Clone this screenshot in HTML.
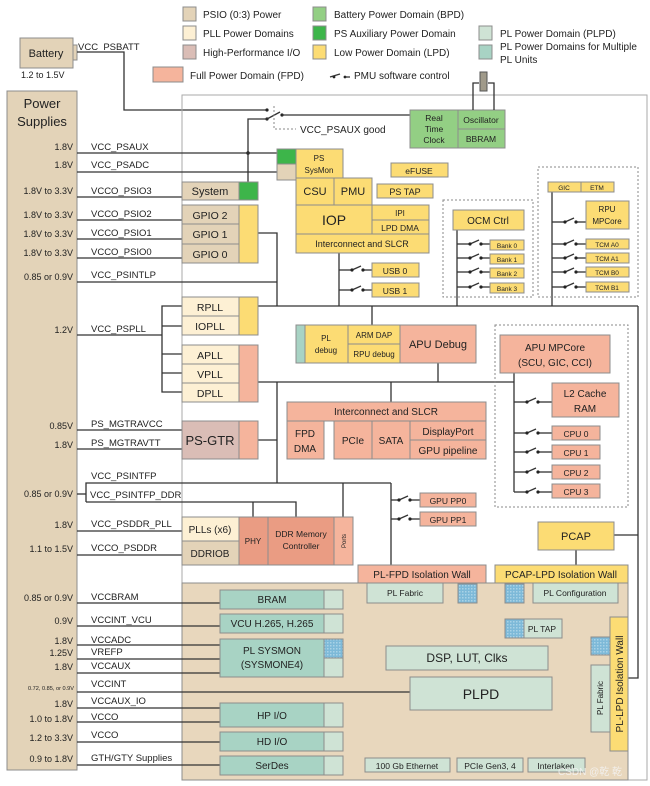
<!DOCTYPE html>
<html><head><meta charset="utf-8"><style>
body{margin:0;background:#fff}
svg{display:block}
text{font-family:"Liberation Sans",sans-serif;fill:#222}
.b{stroke:#8c8c8c;stroke-width:1}
.l{stroke:#333;stroke-width:1.3;fill:none}
.d{stroke:#888;stroke-width:1;stroke-dasharray:2,2;fill:none}
.v{font-size:9px;text-anchor:end}
.n{font-size:9.5px}
.c{text-anchor:middle}
</style></head><body>
<svg width="650" height="786" viewBox="0 0 650 786" xmlns="http://www.w3.org/2000/svg">
<defs>
<pattern id="dt" width="3" height="3" patternUnits="userSpaceOnUse"><rect width="3" height="3" fill="#7db9d8"/><rect width="1.5" height="1.5" fill="#a9d2e6"/></pattern>
</defs>
<!-- legend -->
<rect x="183" y="7" width="13" height="14" fill="#e3d3b8" class="b"/><text x="203" y="18" font-size="10">PSIO (0:3) Power</text>
<rect x="183" y="26" width="13" height="14" fill="#fdf0d4" class="b"/><text x="203" y="37" font-size="10">PLL Power Domains</text>
<rect x="183" y="45" width="13" height="14" fill="#dabdb6" class="b"/><text x="203" y="56" font-size="10">High-Performance I/O</text>
<rect x="313" y="7" width="13" height="14" fill="#93cf84" class="b"/><text x="334" y="18" font-size="10">Battery Power Domain (BPD)</text>
<rect x="313" y="26" width="13" height="14" fill="#3db54a" class="b"/><text x="334" y="37" font-size="10">PS Auxiliary Power Domain</text>
<rect x="313" y="45" width="13" height="14" fill="#fcdc74" class="b"/><text x="334" y="56" font-size="10">Low Power Domain (LPD)</text>
<rect x="479" y="26" width="13" height="14" fill="#cfe3d5" class="b"/><text x="500" y="37" font-size="10">PL Power Domain (PLPD)</text>
<rect x="479" y="45" width="13" height="14" fill="#a8d3c4" class="b"/><text x="500" y="50" font-size="10">PL Power Domains for Multiple</text><text x="500" y="63" font-size="10">PL Units</text>
<rect x="153" y="67" width="30" height="15" fill="#f5b49c" class="b"/><text x="190" y="79" font-size="10">Full Power Domain (FPD)</text>
<circle cx="334" cy="77" r="1.4" fill="#222"/><line x1="330" y1="77" x2="340" y2="74" class="l"/><circle cx="345" cy="77" r="1.4" fill="#222"/><line x1="345" y1="77" x2="350" y2="77" class="l"/>
<text x="354" y="79" font-size="10">PMU software control</text>

<!-- battery -->
<rect x="20" y="38" width="53" height="30" fill="#e3d3b8" class="b"/><text x="46" y="57" class="c" font-size="11">Battery</text>
<rect x="73" y="45" width="4" height="15" fill="#e3d3b8" class="b"/>
<text x="78" y="50" font-size="9.5">VCC_PSBATT</text>
<text x="21" y="78" font-size="9">1.2 to 1.5V</text>
<polyline points="77,52 124,52 124,110 267,110" class="l"/>

<!-- power supplies box -->
<rect x="7" y="91" width="70" height="679" fill="#e3d3b8" class="b"/>
<text x="42" y="108" class="c" font-size="13">Power</text>
<text x="42" y="126" class="c" font-size="13">Supplies</text>

<!-- main box -->
<rect x="182" y="95" width="465" height="685" fill="none" stroke="#aaa"/>
<!-- PL area -->
<rect x="182" y="583" width="446" height="197" fill="#e8d7bd" class="b"/>

<!-- switch & RTC -->
<circle cx="267" cy="110" r="1.6" fill="#222"/>
<circle cx="267" cy="119" r="1.6" fill="#222"/>
<line x1="267" y1="119" x2="280" y2="112" class="l"/>
<circle cx="282" cy="115" r="1.6" fill="#222"/>
<line x1="282" y1="115" x2="410" y2="115" class="l"/>
<polyline points="274,106 274,129 296,129" class="d"/>
<text x="300" y="133" font-size="10">VCC_PSAUX good</text>
<polyline points="267,119 248,119 248,182" class="l"/>
<circle cx="248" cy="153" r="1.8" fill="#222"/>
<rect x="410" y="110" width="48" height="38" fill="#93cf84" class="b"/>
<text x="434" y="121" class="c" font-size="8.5">Real</text><text x="434" y="132" class="c" font-size="8.5">Time</text><text x="434" y="143" class="c" font-size="8.5">Clock</text>
<rect x="458" y="110" width="47" height="19" fill="#93cf84" class="b"/><text x="481" y="123" class="c" font-size="8.5">Oscillator</text>
<rect x="458" y="129" width="47" height="19" fill="#93cf84" class="b"/><text x="481" y="142" class="c" font-size="8.5">BBRAM</text>
<polyline points="473,110 473,83 479,83" class="l" stroke-width="1"/><polyline points="494,110 494,83 488,83" class="l" stroke-width="1"/>
<rect x="480" y="72" width="7" height="19" fill="#a09a8a" stroke="#555"/>

<!-- supply lines -->
<g class="l">
<line x1="77" y1="153" x2="277" y2="153"/>
<line x1="77" y1="172" x2="277" y2="172"/>
<line x1="77" y1="197" x2="182" y2="197"/>
<line x1="77" y1="220" x2="182" y2="220"/>
<line x1="77" y1="239" x2="182" y2="239"/>
<line x1="77" y1="258" x2="182" y2="258"/>
<polyline points="77,282 277,282"/>
<polyline points="258,233 277,233 277,306"/>
<line x1="77" y1="335" x2="162" y2="335"/>
<polyline points="182,306 162,306 162,392 182,392"/>
<line x1="162" y1="326" x2="182" y2="326"/>
<line x1="162" y1="354" x2="182" y2="354"/>
<line x1="162" y1="373" x2="182" y2="373"/>
<line x1="77" y1="430" x2="182" y2="430"/>
<line x1="77" y1="449" x2="182" y2="449"/>
<polyline points="77,494 86,494"/>
<polyline points="86,502 86,483 391,483"/>
<polyline points="86,502 296,502 296,517"/>
<line x1="253" y1="502" x2="253" y2="517"/>
<line x1="343" y1="483" x2="343" y2="517"/>
<line x1="77" y1="531" x2="182" y2="531"/>
<line x1="77" y1="555" x2="182" y2="555"/>
<line x1="77" y1="603" x2="220" y2="603"/>
<line x1="77" y1="626" x2="220" y2="626"/>
<line x1="77" y1="645" x2="220" y2="645"/>
<line x1="77" y1="659" x2="220" y2="659"/>
<line x1="77" y1="673" x2="220" y2="673"/>
<line x1="77" y1="692" x2="410" y2="692"/>
<line x1="77" y1="708" x2="220" y2="708"/>
<line x1="77" y1="722" x2="220" y2="722"/>
<line x1="77" y1="742" x2="220" y2="742"/>
<line x1="77" y1="765" x2="220" y2="765"/>
<!-- internal buses -->
<line x1="258" y1="306" x2="638" y2="306"/>
<polyline points="638,306 638,678 628,678"/>
<polyline points="614,535 638,535"/>
<line x1="339" y1="253" x2="339" y2="306"/>
<line x1="372" y1="306" x2="372" y2="325"/>
<line x1="457" y1="230" x2="457" y2="306"/>
<line x1="552" y1="192" x2="552" y2="306"/>
<line x1="258" y1="382" x2="514" y2="382"/>
<line x1="258" y1="440" x2="277" y2="440"/>
<line x1="277" y1="382" x2="277" y2="483"/>
<line x1="391" y1="382" x2="391" y2="402"/>
<line x1="438" y1="363" x2="438" y2="382"/>
<line x1="514" y1="373" x2="514" y2="492"/>
<line x1="391" y1="483" x2="391" y2="565"/>
<line x1="576" y1="550" x2="576" y2="565"/>
</g>

<!-- switches -->
<g>
<g class="l" stroke-width="1.1">
<line x1="339" y1="270" x2="352" y2="270"/><line x1="352" y1="270" x2="361" y2="266"/><line x1="363" y1="270" x2="372" y2="270"/>
<line x1="339" y1="290" x2="352" y2="290"/><line x1="352" y1="290" x2="361" y2="286"/><line x1="363" y1="290" x2="372" y2="290"/>
<line x1="457" y1="244" x2="470" y2="244"/><line x1="470" y1="244" x2="479" y2="240"/><line x1="481" y1="244" x2="490" y2="244"/>
<line x1="457" y1="258" x2="470" y2="258"/><line x1="470" y1="258" x2="479" y2="254"/><line x1="481" y1="258" x2="490" y2="258"/>
<line x1="457" y1="272" x2="470" y2="272"/><line x1="470" y1="272" x2="479" y2="268"/><line x1="481" y1="272" x2="490" y2="272"/>
<line x1="457" y1="287" x2="470" y2="287"/><line x1="470" y1="287" x2="479" y2="283"/><line x1="481" y1="287" x2="490" y2="287"/>
<line x1="552" y1="222" x2="565" y2="222"/><line x1="565" y1="222" x2="574" y2="218"/><line x1="576" y1="222" x2="586" y2="222"/>
<line x1="552" y1="244" x2="565" y2="244"/><line x1="565" y1="244" x2="574" y2="240"/><line x1="576" y1="244" x2="586" y2="244"/>
<line x1="552" y1="258" x2="565" y2="258"/><line x1="565" y1="258" x2="574" y2="254"/><line x1="576" y1="258" x2="586" y2="258"/>
<line x1="552" y1="272" x2="565" y2="272"/><line x1="565" y1="272" x2="574" y2="268"/><line x1="576" y1="272" x2="586" y2="272"/>
<line x1="552" y1="287" x2="565" y2="287"/><line x1="565" y1="287" x2="574" y2="283"/><line x1="576" y1="287" x2="586" y2="287"/>
<line x1="514" y1="402" x2="527" y2="402"/><line x1="527" y1="402" x2="536" y2="398"/><line x1="538" y1="402" x2="552" y2="402"/>
<line x1="514" y1="433" x2="527" y2="433"/><line x1="527" y1="433" x2="536" y2="429"/><line x1="538" y1="433" x2="552" y2="433"/>
<line x1="514" y1="452" x2="527" y2="452"/><line x1="527" y1="452" x2="536" y2="448"/><line x1="538" y1="452" x2="552" y2="452"/>
<line x1="514" y1="472" x2="527" y2="472"/><line x1="527" y1="472" x2="536" y2="468"/><line x1="538" y1="472" x2="552" y2="472"/>
<line x1="514" y1="492" x2="527" y2="492"/><line x1="527" y1="492" x2="536" y2="488"/><line x1="538" y1="492" x2="552" y2="492"/>
<line x1="391" y1="500" x2="399" y2="500"/><line x1="399" y1="500" x2="408" y2="496"/><line x1="410" y1="500" x2="420" y2="500"/>
<line x1="391" y1="519" x2="399" y2="519"/><line x1="399" y1="519" x2="408" y2="515"/><line x1="410" y1="519" x2="420" y2="519"/>
</g>
<g fill="#222">
<circle cx="352" cy="270" r="1.6"/><circle cx="363" cy="270" r="1.6"/><circle cx="352" cy="290" r="1.6"/><circle cx="363" cy="290" r="1.6"/>
<circle cx="470" cy="244" r="1.6"/><circle cx="481" cy="244" r="1.6"/><circle cx="470" cy="258" r="1.6"/><circle cx="481" cy="258" r="1.6"/>
<circle cx="470" cy="272" r="1.6"/><circle cx="481" cy="272" r="1.6"/><circle cx="470" cy="287" r="1.6"/><circle cx="481" cy="287" r="1.6"/>
<circle cx="565" cy="222" r="1.6"/><circle cx="576" cy="222" r="1.6"/><circle cx="565" cy="244" r="1.6"/><circle cx="576" cy="244" r="1.6"/>
<circle cx="565" cy="258" r="1.6"/><circle cx="576" cy="258" r="1.6"/><circle cx="565" cy="272" r="1.6"/><circle cx="576" cy="272" r="1.6"/>
<circle cx="565" cy="287" r="1.6"/><circle cx="576" cy="287" r="1.6"/>
<circle cx="527" cy="402" r="1.6"/><circle cx="538" cy="402" r="1.6"/><circle cx="527" cy="433" r="1.6"/><circle cx="538" cy="433" r="1.6"/>
<circle cx="527" cy="452" r="1.6"/><circle cx="538" cy="452" r="1.6"/><circle cx="527" cy="472" r="1.6"/><circle cx="538" cy="472" r="1.6"/>
<circle cx="527" cy="492" r="1.6"/><circle cx="538" cy="492" r="1.6"/>
<circle cx="399" cy="500" r="1.6"/><circle cx="410" cy="500" r="1.6"/><circle cx="399" cy="519" r="1.6"/><circle cx="410" cy="519" r="1.6"/>
</g>
</g>

<!-- left labels -->
<g>
<text x="73" y="150" class="v">1.8V</text><text x="91" y="150" class="n">VCC_PSAUX</text>
<text x="73" y="168" class="v">1.8V</text><text x="91" y="168" class="n">VCC_PSADC</text>
<text x="73" y="194" class="v">1.8V to 3.3V</text><text x="91" y="194" class="n">VCCO_PSIO3</text>
<text x="73" y="218" class="v">1.8V to 3.3V</text><text x="91" y="217" class="n">VCCO_PSIO2</text>
<text x="73" y="237" class="v">1.8V to 3.3V</text><text x="91" y="236" class="n">VCCO_PSIO1</text>
<text x="73" y="256" class="v">1.8V to 3.3V</text><text x="91" y="255" class="n">VCCO_PSIO0</text>
<text x="73" y="280" class="v">0.85 or 0.9V</text><text x="91" y="278" class="n">VCC_PSINTLP</text>
<text x="73" y="333" class="v">1.2V</text><text x="91" y="332" class="n">VCC_PSPLL</text>
<text x="73" y="429" class="v">0.85V</text><text x="91" y="427" class="n">PS_MGTRAVCC</text>
<text x="73" y="448" class="v">1.8V</text><text x="91" y="446" class="n">PS_MGTRAVTT</text>
<text x="91" y="479" class="n">VCC_PSINTFP</text>
<text x="73" y="497" class="v">0.85 or 0.9V</text><text x="90" y="498" class="n">VCC_PSINTFP_DDR</text>
<text x="73" y="528" class="v">1.8V</text><text x="91" y="527" class="n">VCC_PSDDR_PLL</text>
<text x="73" y="552" class="v">1.1 to 1.5V</text><text x="91" y="551" class="n">VCCO_PSDDR</text>
<text x="73" y="601" class="v">0.85 or 0.9V</text><text x="91" y="600" class="n">VCCBRAM</text>
<text x="73" y="624" class="v">0.9V</text><text x="91" y="623" class="n">VCCINT_VCU</text>
<text x="73" y="644" class="v">1.8V</text><text x="91" y="643" class="n">VCCADC</text>
<text x="73" y="656" class="v">1.25V</text><text x="91" y="655" class="n">VREFP</text>
<text x="73" y="670" class="v">1.8V</text><text x="91" y="669" class="n">VCCAUX</text>
<text x="74" y="690" class="v" style="font-size:5.6px">0.72, 0.85, or 0.9V</text><text x="91" y="687" class="n">VCCINT</text>
<text x="73" y="707" class="v">1.8V</text><text x="91" y="704" class="n">VCCAUX_IO</text>
<text x="73" y="722" class="v">1.0 to 1.8V</text><text x="91" y="720" class="n">VCCO</text>
<text x="73" y="741" class="v">1.2 to 3.3V</text><text x="91" y="738" class="n">VCCO</text>
<text x="73" y="762" class="v">0.9 to 1.8V</text><text x="91" y="761" class="n">GTH/GTY Supplies</text>
</g>

<!-- PS blocks -->
<rect x="277" y="149" width="19" height="15" fill="#3db54a" class="b"/>
<rect x="277" y="164" width="19" height="16" fill="#e3d3b8" class="b"/>
<rect x="296" y="149" width="47" height="29" fill="#fcdc74" class="b"/><text x="319" y="161" class="c" font-size="8">PS</text><text x="319" y="173" class="c" font-size="8">SysMon</text>
<rect x="296" y="178" width="38" height="27" fill="#fcdc74" class="b"/><text x="315" y="195" class="c" font-size="11">CSU</text>
<rect x="334" y="178" width="38" height="27" fill="#fcdc74" class="b"/><text x="353" y="195" class="c" font-size="11">PMU</text>
<rect x="391" y="163" width="57" height="14" fill="#fcdc74" class="b"/><text x="419" y="174" class="c" font-size="8.5">eFUSE</text>
<rect x="377" y="184" width="56" height="14" fill="#fcdc74" class="b"/><text x="405" y="195" class="c" font-size="9">PS TAP</text>
<rect x="296" y="205" width="76" height="29" fill="#fcdc74" class="b"/><text x="334" y="225" class="c" font-size="14">IOP</text>
<rect x="372" y="205" width="57" height="15" fill="#fcdc74" class="b"/><text x="400" y="216" class="c" font-size="8">IPI</text>
<rect x="372" y="220" width="57" height="14" fill="#fcdc74" class="b"/><text x="400" y="231" class="c" font-size="8.5">LPD DMA</text>
<rect x="296" y="234" width="133" height="19" fill="#fcdc74" class="b"/><text x="362" y="247" class="c" font-size="9">Interconnect and SLCR</text>
<rect x="372" y="263" width="47" height="14" fill="#fcdc74" class="b"/><text x="395" y="274" class="c" font-size="8.5">USB 0</text>
<rect x="372" y="283" width="47" height="14" fill="#fcdc74" class="b"/><text x="395" y="294" class="c" font-size="8.5">USB 1</text>

<rect x="182" y="182" width="57" height="18" fill="#e3d3b8" class="b"/><text x="210" y="195" class="c" font-size="11">System</text>
<rect x="239" y="182" width="19" height="18" fill="#3db54a" class="b"/>
<rect x="182" y="205" width="57" height="19" fill="#e3d3b8" class="b"/><text x="210" y="219" class="c" font-size="10.5">GPIO 2</text>
<rect x="182" y="224" width="57" height="20" fill="#e3d3b8" class="b"/><text x="210" y="238" class="c" font-size="10.5">GPIO 1</text>
<rect x="182" y="244" width="57" height="19" fill="#e3d3b8" class="b"/><text x="210" y="258" class="c" font-size="10.5">GPIO 0</text>
<rect x="239" y="205" width="19" height="58" fill="#fcdc74" class="b"/>
<rect x="182" y="297" width="57" height="19" fill="#fdf0d4" class="b"/><text x="210" y="311" class="c" font-size="10.5">RPLL</text>
<rect x="182" y="316" width="57" height="19" fill="#fdf0d4" class="b"/><text x="210" y="330" class="c" font-size="10.5">IOPLL</text>
<rect x="239" y="297" width="19" height="38" fill="#fcdc74" class="b"/>
<rect x="182" y="345" width="57" height="19" fill="#fdf0d4" class="b"/><text x="210" y="359" class="c" font-size="10.5">APLL</text>
<rect x="182" y="364" width="57" height="19" fill="#fdf0d4" class="b"/><text x="210" y="378" class="c" font-size="10.5">VPLL</text>
<rect x="182" y="383" width="57" height="19" fill="#fdf0d4" class="b"/><text x="210" y="397" class="c" font-size="10.5">DPLL</text>
<rect x="239" y="345" width="19" height="57" fill="#f5b49c" class="b"/>
<rect x="182" y="421" width="57" height="38" fill="#dabdb6" class="b"/><text x="210" y="445" class="c" font-size="13">PS-GTR</text>
<rect x="239" y="421" width="19" height="38" fill="#f5b49c" class="b"/>

<!-- debug -->
<rect x="296" y="325" width="9" height="38" fill="#a8d3c4" class="b"/>
<rect x="305" y="325" width="43" height="38" fill="#fcdc74" class="b"/><text x="326" y="341" class="c" font-size="8">PL</text><text x="326" y="353" class="c" font-size="8">debug</text>
<rect x="348" y="325" width="52" height="19" fill="#fcdc74" class="b"/><text x="374" y="338" class="c" font-size="8">ARM DAP</text>
<rect x="348" y="344" width="52" height="19" fill="#fcdc74" class="b"/><text x="374" y="357" class="c" font-size="8">RPU debug</text>
<rect x="400" y="325" width="76" height="38" fill="#f5b49c" class="b"/><text x="438" y="348" class="c" font-size="11">APU Debug</text>

<!-- FPD interconnect -->
<rect x="287" y="402" width="199" height="19" fill="#f5b49c" class="b"/><text x="386" y="415" class="c" font-size="10">Interconnect and SLCR</text>
<rect x="287" y="421" width="37" height="38" fill="#f5b49c" class="b"/><text x="305" y="437" class="c" font-size="10">FPD</text><text x="305" y="452" class="c" font-size="10">DMA</text>
<rect x="334" y="421" width="38" height="38" fill="#f5b49c" class="b"/><text x="353" y="444" class="c" font-size="10">PCIe</text>
<rect x="372" y="421" width="38" height="38" fill="#f5b49c" class="b"/><text x="391" y="444" class="c" font-size="10">SATA</text>
<rect x="410" y="421" width="76" height="19" fill="#f5b49c" class="b"/><text x="448" y="435" class="c" font-size="10">DisplayPort</text>
<rect x="410" y="440" width="76" height="19" fill="#f5b49c" class="b"/><text x="448" y="454" class="c" font-size="10">GPU pipeline</text>

<!-- OCM -->
<rect x="443" y="200" width="90" height="97" class="d"/>
<rect x="453" y="210" width="71" height="20" fill="#fcdc74" class="b"/><text x="488" y="224" class="c" font-size="10">OCM Ctrl</text>
<rect x="490" y="240" width="34" height="10" fill="#fcdc74" class="b"/><text x="507" y="248" class="c" font-size="6.5">Bank 0</text>
<rect x="490" y="254" width="34" height="10" fill="#fcdc74" class="b"/><text x="507" y="262" class="c" font-size="6.5">Bank 1</text>
<rect x="490" y="268" width="34" height="10" fill="#fcdc74" class="b"/><text x="507" y="276" class="c" font-size="6.5">Bank 2</text>
<rect x="490" y="283" width="34" height="10" fill="#fcdc74" class="b"/><text x="507" y="291" class="c" font-size="6.5">Bank 3</text>
<!-- RPU -->
<rect x="538" y="167" width="100" height="130" class="d"/>
<rect x="548" y="182" width="33" height="10" fill="#fcdc74" class="b"/><text x="564" y="190" class="c" font-size="6.5">GIC</text>
<rect x="581" y="182" width="33" height="10" fill="#fcdc74" class="b"/><text x="597" y="190" class="c" font-size="6.5">ETM</text>
<rect x="586" y="201" width="43" height="28" fill="#fcdc74" class="b"/><text x="607" y="212" class="c" font-size="8">RPU</text><text x="607" y="224" class="c" font-size="8">MPCore</text>
<rect x="586" y="239" width="43" height="10" fill="#fcdc74" class="b"/><text x="607" y="247" class="c" font-size="6.5">TCM A0</text>
<rect x="586" y="253" width="43" height="10" fill="#fcdc74" class="b"/><text x="607" y="261" class="c" font-size="6.5">TCM A1</text>
<rect x="586" y="267" width="43" height="10" fill="#fcdc74" class="b"/><text x="607" y="275" class="c" font-size="6.5">TCM B0</text>
<rect x="586" y="282" width="43" height="10" fill="#fcdc74" class="b"/><text x="607" y="290" class="c" font-size="6.5">TCM B1</text>

<!-- APU -->
<rect x="495" y="325" width="133" height="182" class="d"/>
<rect x="500" y="335" width="110" height="38" fill="#f5b49c" class="b"/><text x="555" y="351" class="c" font-size="10">APU MPCore</text><text x="555" y="366" class="c" font-size="10">(SCU, GIC, CCI)</text>
<rect x="552" y="383" width="67" height="34" fill="#f5b49c" class="b"/><text x="585" y="397" class="c" font-size="10">L2 Cache</text><text x="585" y="412" class="c" font-size="10">RAM</text>
<rect x="552" y="426" width="48" height="14" fill="#f5b49c" class="b"/><text x="576" y="437" class="c" font-size="8.5">CPU 0</text>
<rect x="552" y="445" width="48" height="14" fill="#f5b49c" class="b"/><text x="576" y="456" class="c" font-size="8.5">CPU 1</text>
<rect x="552" y="465" width="48" height="14" fill="#f5b49c" class="b"/><text x="576" y="476" class="c" font-size="8.5">CPU 2</text>
<rect x="552" y="484" width="48" height="14" fill="#f5b49c" class="b"/><text x="576" y="495" class="c" font-size="8.5">CPU 3</text>

<rect x="420" y="493" width="56" height="14" fill="#f5b49c" class="b"/><text x="448" y="504" class="c" font-size="8.5">GPU PP0</text>
<rect x="420" y="512" width="56" height="14" fill="#f5b49c" class="b"/><text x="448" y="523" class="c" font-size="8.5">GPU PP1</text>

<!-- DDR -->
<rect x="182" y="517" width="57" height="24" fill="#fdf0d4" class="b"/><text x="210" y="533" class="c" font-size="10">PLLs (x6)</text>
<rect x="182" y="541" width="57" height="24" fill="#e3d3b8" class="b"/><text x="210" y="557" class="c" font-size="10">DDRIOB</text>
<rect x="239" y="517" width="29" height="48" fill="#ea9c83" class="b"/><text x="253" y="544" class="c" font-size="8">PHY</text>
<rect x="268" y="517" width="66" height="48" fill="#ea9c83" class="b"/><text x="301" y="537" class="c" font-size="8.5">DDR Memory</text><text x="301" y="549" class="c" font-size="8.5">Controller</text>
<rect x="334" y="517" width="19" height="48" fill="#f5b49c" class="b"/><text x="346" y="541" class="c" font-size="6" transform="rotate(-90 346 541)">Ports</text>

<!-- PCAP & walls -->
<rect x="538" y="522" width="76" height="28" fill="#fcdc74" class="b"/><text x="576" y="540" class="c" font-size="11">PCAP</text>
<rect x="358" y="565" width="128" height="18" fill="#f5b49c" class="b"/><text x="422" y="578" class="c" font-size="10">PL-FPD Isolation Wall</text>
<rect x="495" y="565" width="133" height="18" fill="#fcdc74" class="b"/><text x="561" y="578" class="c" font-size="10">PCAP-LPD Isolation Wall</text>

<!-- PL blocks -->
<rect x="367" y="583" width="76" height="20" fill="#cfe3d5" class="b"/><text x="405" y="596" class="c" font-size="8.5">PL Fabric</text>
<rect x="458" y="584" width="19" height="19" fill="url(#dt)" class="b"/>
<rect x="505" y="584" width="19" height="19" fill="url(#dt)" class="b"/>
<rect x="533" y="583" width="85" height="20" fill="#cfe3d5" class="b"/><text x="575" y="596" class="c" font-size="8.5">PL Configuration</text>
<rect x="505" y="619" width="19" height="19" fill="url(#dt)" class="b"/>
<rect x="524" y="619" width="38" height="19" fill="#cfe3d5" class="b"/><text x="542" y="632" class="c" font-size="8.5">PL TAP</text>
<rect x="386" y="646" width="162" height="24" fill="#cfe3d5" class="b"/><text x="467" y="662" class="c" font-size="12">DSP, LUT, Clks</text>
<rect x="410" y="677" width="142" height="33" fill="#cfe3d5" class="b"/><text x="481" y="699" class="c" font-size="14">PLPD</text>
<rect x="591" y="637" width="19" height="18" fill="url(#dt)" class="b"/>
<rect x="591" y="665" width="19" height="67" fill="#cfe3d5" class="b"/><text x="603" y="698" class="c" font-size="8" transform="rotate(-90 603 698)">PL Fabric</text>
<rect x="610" y="617" width="18" height="134" fill="#fcdc74" class="b"/><text x="623" y="684" class="c" font-size="10" transform="rotate(-90 623 684)">PL-LPD Isolation Wall</text>

<rect x="220" y="590" width="104" height="19" fill="#a8d3c4" class="b"/><text x="272" y="603" class="c" font-size="10">BRAM</text>
<rect x="324" y="590" width="19" height="19" fill="#cfe3d5" class="b"/>
<rect x="220" y="614" width="104" height="19" fill="#a8d3c4" class="b"/><text x="272" y="627" class="c" font-size="10">VCU H.265, H.265</text>
<rect x="324" y="614" width="19" height="19" fill="#cfe3d5" class="b"/>
<rect x="220" y="639" width="104" height="38" fill="#a8d3c4" class="b"/><text x="272" y="654" class="c" font-size="10">PL SYSMON</text><text x="272" y="668" class="c" font-size="10">(SYSMONE4)</text>
<rect x="324" y="639" width="19" height="19" fill="url(#dt)" class="b"/>
<rect x="324" y="658" width="19" height="19" fill="#cfe3d5" class="b"/>
<rect x="220" y="703" width="104" height="24" fill="#a8d3c4" class="b"/><text x="272" y="719" class="c" font-size="10">HP I/O</text>
<rect x="324" y="703" width="19" height="24" fill="#cfe3d5" class="b"/>
<rect x="220" y="732" width="104" height="19" fill="#a8d3c4" class="b"/><text x="272" y="745" class="c" font-size="10">HD I/O</text>
<rect x="324" y="732" width="19" height="19" fill="#cfe3d5" class="b"/>
<rect x="220" y="756" width="104" height="19" fill="#a8d3c4" class="b"/><text x="272" y="769" class="c" font-size="10">SerDes</text>
<rect x="324" y="756" width="19" height="19" fill="#cfe3d5" class="b"/>
<rect x="365" y="758" width="85" height="14" fill="#cfe3d5" class="b"/><text x="407" y="769" class="c" font-size="8.5">100 Gb Ethernet</text>
<rect x="457" y="758" width="66" height="14" fill="#cfe3d5" class="b"/><text x="490" y="769" class="c" font-size="8.5">PCIe Gen3, 4</text>
<rect x="528" y="758" width="57" height="14" fill="#cfe3d5" class="b"/><text x="556" y="769" class="c" font-size="8.5">Interlaken</text>
<text x="558" y="775" font-size="10" style="fill:#f4f4f4;opacity:.85">CSDN @乾 乾</text>
</svg>
</body></html>
